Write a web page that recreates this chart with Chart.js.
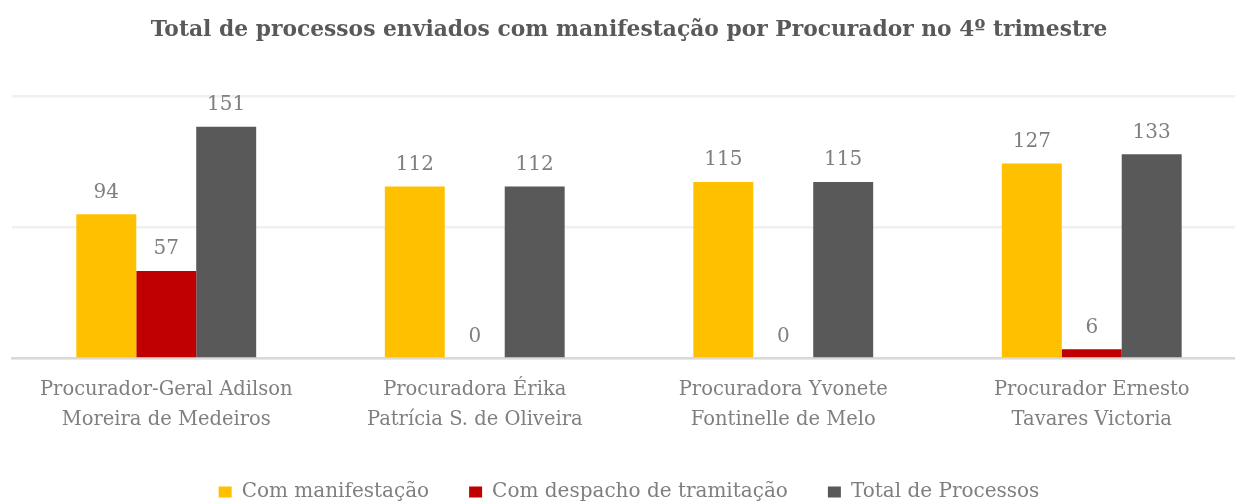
<!DOCTYPE html>
<html>
<head>
<meta charset="utf-8">
<script src="https://cdn.jsdelivr.net/npm/chart.js@4.4.1/dist/chart.umd.min.js"></script>
<style>
html,body{margin:0;padding:0;background:#fff;overflow:hidden;width:1235px;height:502px;}
#wrap{position:absolute;left:0;top:0;width:1257px;height:512px;}
</style>
</head>
<body>
<div id="wrap"><canvas id="c"></canvas></div>
<script>
const categories = [
  ["Procurador-Geral Adilson", "Moreira de Medeiros"],
  ["Procuradora Érika", "Patrícia S. de Oliveira"],
  ["Procuradora Yvonete", "Fontinelle de Melo"],
  ["Procurador Ernesto", "Tavares Victoria"]
];
const seriesNames = ["Com manifestação", "Com despacho de tramitação", "Total de Processos"];
const comManifestacao = [94, 112, 115, 127];
const comDespacho = [57, 0, 0, 6];
const totalProcessos = [151, 112, 115, 133];
const titleText = "Total de processos enviados com manifestação por Procurador no 4º trimestre";

const FONT = "'DejaVu Serif', serif";

const valueLabels = {
  id: 'valueLabels',
  afterDatasetsDraw(chart) {
    const ctx = chart.ctx;
    ctx.save();
    ctx.font = "20px " + FONT;
    ctx.fillStyle = '#7f7f7f';
    ctx.textAlign = 'center';
    ctx.textBaseline = 'alphabetic';
    chart.data.datasets.forEach((ds, i) => {
      const meta = chart.getDatasetMeta(i);
      meta.data.forEach((bar, j) => {
        ctx.fillText(String(ds.data[j]), bar.x, bar.y - 16.5);
      });
    });
    ctx.restore();
  }
};

new Chart(document.getElementById('c'), {
  type: 'bar',
  data: {
    labels: categories,
    datasets: [
      { label: seriesNames[0], data: comManifestacao, backgroundColor: '#FFC000' },
      { label: seriesNames[1], data: comDespacho, backgroundColor: '#C00000' },
      { label: seriesNames[2], data: totalProcessos, backgroundColor: '#595959' }
    ]
  },
  options: {
    responsive: true,
    maintainAspectRatio: false,
    animation: false,
    layout: { padding: { left: 12, right: 11, top: 0, bottom: 0 } },
    datasets: { bar: { categoryPercentage: 0.583, barPercentage: 1.0 } },
    plugins: {
      title: {
        display: true,
        text: titleText,
        color: '#595959',
        font: { family: FONT, size: 21.8, weight: 'bold', lineHeight: 1.2 },
        padding: { top: 17.5, bottom: 52.3 }
      },
      legend: {
        position: 'bottom',
        labels: {
          color: '#7f7f7f',
          font: { family: FONT, size: 20, lineHeight: 1.2 },
          boxWidth: 13,
          boxHeight: 11,
          padding: 40
        }
      },
      tooltip: { enabled: false }
    },
    scales: {
      x: {
        grid: { display: false, drawTicks: false },
        border: { display: true, color: '#d9d9d9', width: 2.5 },
        ticks: {
          color: '#7f7f7f',
          font: { family: FONT, size: 19.5, lineHeight: 30 / 19.5 },
          padding: 17,
          maxRotation: 0
        },
        afterFit(scale) { scale.height -= 10.4; }
      },
      y: {
        min: 0,
        max: 171,
        ticks: { display: false, stepSize: 85.5 },
        grid: { color: '#f0f0f0', lineWidth: 2.5, drawTicks: false },
        border: { display: false }
      }
    }
  },
  plugins: [valueLabels]
});
</script>
</body>
</html>
